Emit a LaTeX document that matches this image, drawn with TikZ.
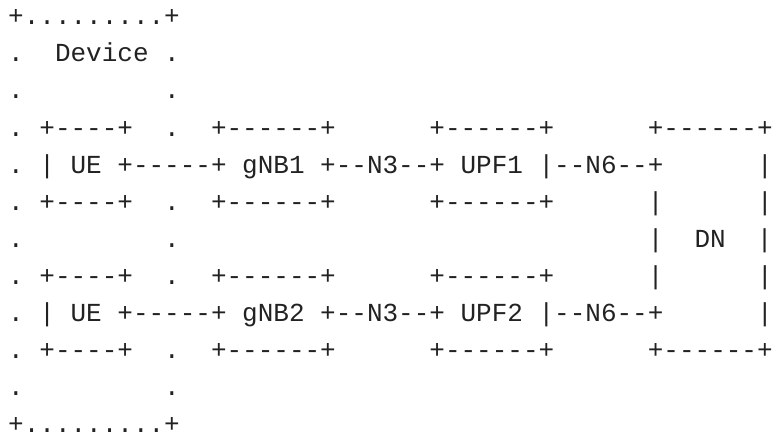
\documentclass[tikz,border=0pt]{standalone}
\usepackage{fontspec}
\setmonofont{Liberation Mono}
\definecolor{ink}{HTML}{222222}
\newlength\charw
\setlength\charw{15.6pt}
\newcommand\gap[1]{\hspace*{#1\charw}}
\tikzset{asciiline/.style={anchor=base west, inner sep=0pt, outer sep=0pt, text=ink,
  font=\ttfamily\fontsize{26pt}{30pt}\selectfont}}
\begin{document}
\begin{tikzpicture}[x=1pt,y=1pt]
\useasboundingbox (0,0) rectangle (775,-433);
\def\lx{8.2}
\node[asciiline] (l1)  at (\lx,-25)  {+.........+};
\node[asciiline] (l2)  at (\lx,-62)  {.\gap{2}Device\gap{1}.};
\node[asciiline] (l3)  at (\lx,-99)  {.\gap{9}.};
\node[asciiline] (l4)  at (\lx,-136) {.\gap{1}+----+\gap{2}.\gap{2}+------+\gap{6}+------+\gap{6}+------+};
\node[asciiline] (l5)  at (\lx,-173) {.\gap{1}|\gap{1}UE\gap{1}+-----+\gap{1}gNB1\gap{1}+--N3--+\gap{1}UPF1\gap{1}|--N6--+\gap{6}|};
\node[asciiline] (l6)  at (\lx,-210) {.\gap{1}+----+\gap{2}.\gap{2}+------+\gap{6}+------+\gap{6}|\gap{6}|};
\node[asciiline] (l7)  at (\lx,-247) {.\gap{9}.\gap{30}|\gap{2}DN\gap{2}|};
\node[asciiline] (l8)  at (\lx,-284) {.\gap{1}+----+\gap{2}.\gap{2}+------+\gap{6}+------+\gap{6}|\gap{6}|};
\node[asciiline] (l9)  at (\lx,-321) {.\gap{1}|\gap{1}UE\gap{1}+-----+\gap{1}gNB2\gap{1}+--N3--+\gap{1}UPF2\gap{1}|--N6--+\gap{6}|};
\node[asciiline] (l10) at (\lx,-358) {.\gap{1}+----+\gap{2}.\gap{2}+------+\gap{6}+------+\gap{6}+------+};
\node[asciiline] (l11) at (\lx,-395) {.\gap{9}.};
\node[asciiline] (l12) at (\lx,-432) {+.........+};
\end{tikzpicture}
\end{document}
